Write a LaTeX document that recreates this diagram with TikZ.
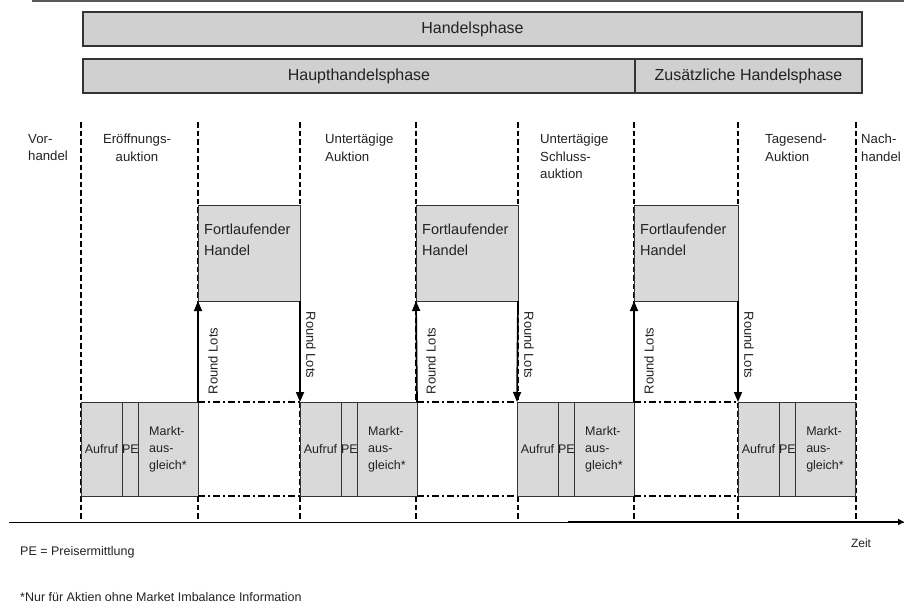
\documentclass[tikz,border=0pt]{standalone}
\usepackage{fontspec}
\setmainfont{Liberation Sans}
\usetikzlibrary{arrows.meta}
\definecolor{boxgray}{HTML}{D9D9D9}
\definecolor{bargray}{HTML}{D0D0D0}
\definecolor{edge}{HTML}{333333}
\definecolor{txt}{HTML}{222222}
\begin{document}
\begin{tikzpicture}[x=1pt,y=-1pt,
  every node/.style={text=txt},
  bar/.style={draw=edge, line width=1.3pt, fill=bargray, inner sep=0pt, outer sep=0pt, anchor=north west, minimum height=34pt, font=\fontsize{16}{19}\selectfont},
  abox/.style={draw=edge, line width=0.9pt, fill=boxgray, inner sep=0pt, outer sep=0pt, anchor=north west, minimum height=94pt, font=\fontsize{12.5}{17}\selectfont, align=left},
  fbox/.style={draw=edge, line width=0.9pt, fill=boxgray, inner sep=0pt, outer sep=0pt, anchor=north west, minimum height=96pt},
  ftext/.style={inner sep=0pt, anchor=west, align=left, font=\fontsize{14.5}{21}\selectfont},
  lbl/.style={inner sep=0pt, anchor=north west, align=left, font=\fontsize{13.2}{17.5}\selectfont},
  vdash/.style={line width=1.7pt, dash pattern=on 5.5pt off 3pt},
  ddot/.style={line width=1.6pt, dash pattern=on 7pt off 3pt on 2pt off 3pt},
  arr/.style={line width=1.7pt, -{Triangle[length=10pt,width=8pt]}},
  rl/.style={inner sep=0pt, font=\fontsize{13}{15}\selectfont},
  note/.style={inner sep=0pt, anchor=west, font=\fontsize{12.5}{15}\selectfont}
]
\useasboundingbox (0,0) rectangle (904,611);

% top rule
\coordinate (tl) at (32,1);
\coordinate (tr) at (904,1);
\draw[line width=1.5pt, color=black!65] (tl) -- (tr);

% phase bars
\node[bar, minimum width=779pt] (hp) at (83,12) {Handelsphase};
\node[bar, minimum width=552pt] (hhp) at (83,59) {Haupthandelsphase};
\node[bar, minimum width=227pt] (zhp) at (635,59) {Zusätzliche Handelsphase};

% vertical dashed separators
\foreach \i/\x in {1/81,2/198,3/300,4/416,5/518,6/634,7/738,8/856}{
  \coordinate (d\i t) at (\x,122);
  \coordinate (d\i b) at (\x,521);
  \draw[vdash] (d\i t) -- (d\i b);
}

% section labels
\node[lbl] (vor) at (28,134) {Vor-\\handel};
\node[lbl, anchor=north, align=center] (eroe) at (137,134) {Eröffnungs-\\auktion};
\node[lbl] (unt) at (325,134) {Untertägige\\Auktion};
\node[lbl] (schl) at (540,134) {Untertägige\\Schluss-\\auktion};
\node[lbl] (tag) at (765,134) {Tagesend-\\Auktion};
\node[lbl] (nach) at (861,134) {Nach-\\handel};

% continuous trading boxes
\node[fbox, minimum width=102pt] (f1) at (198,205) {};
\node[fbox, minimum width=102pt] (f2) at (416,205) {};
\node[fbox, minimum width=104pt] (f3) at (634,205) {};
\node[ftext] (f1t) at (204,240) {Fortlaufender\\Handel};
\node[ftext] (f2t) at (422,240) {Fortlaufender\\Handel};
\node[ftext] (f3t) at (640,240) {Fortlaufender\\Handel};

% auction boxes
\foreach \i/\x in {1/81,2/300,3/517,4/738}{
  \node[abox, minimum width=41pt] (a\i) at (\x,402) {Aufruf};
  \node[abox, minimum width=16pt] (p\i) at (\x+41,402) {PE};
  \node[abox, minimum width=60pt] (m\i) at (\x+57,402) {Markt-\\aus-\\gleich*};
}

% dash-dot connections between auctions
\draw[ddot] (m1.north east) -- (a2.north west);
\draw[ddot] (m1.south east) -- (a2.south west);
\draw[ddot] (m2.north east) -- (a3.north west);
\draw[ddot] (m2.south east) -- (a3.south west);
\draw[ddot] (m3.north east) -- (a4.north west);
\draw[ddot] (m3.south east) -- (a4.south west);

% round lots arrows
\draw[arr] (m1.north east) -- (f1.south west);
\draw[arr] (f1.south east) -- (a2.north west);
\draw[arr] (m2.north east) -- (f2.south west);
\draw[arr] (f2.south east) -- (a3.north west);
\draw[arr] (m3.north east) -- (f3.south west);
\draw[arr] (f3.south east) -- (a4.north west);

\node[rl, rotate=90] (r1) at (213,361) {Round Lots};
\node[rl, rotate=-90] (r2) at (311,345) {Round Lots};
\node[rl, rotate=90] (r3) at (431,361) {Round Lots};
\node[rl, rotate=-90] (r4) at (529,345) {Round Lots};
\node[rl, rotate=90] (r5) at (649,361) {Round Lots};
\node[rl, rotate=-90] (r6) at (749,345) {Round Lots};

% time axis
\coordinate (t0) at (9,522);
\coordinate (tm) at (568,522);
\coordinate (t1) at (904,522);
\draw[line width=0.9pt] (t0) -- (t1);
\draw[line width=2.2pt, -{Triangle[length=6pt,width=6pt]}] (tm) -- (t1);
\node[inner sep=0pt, font=\fontsize{12}{14}\selectfont] (zeit) at (861,543) {Zeit};

% notes
\node[note] (n1) at (20,552) {PE = Preisermittlung};
\node[note] (n2) at (20,597) {*Nur für Aktien ohne Market Imbalance Information};
\end{tikzpicture}
\end{document}
